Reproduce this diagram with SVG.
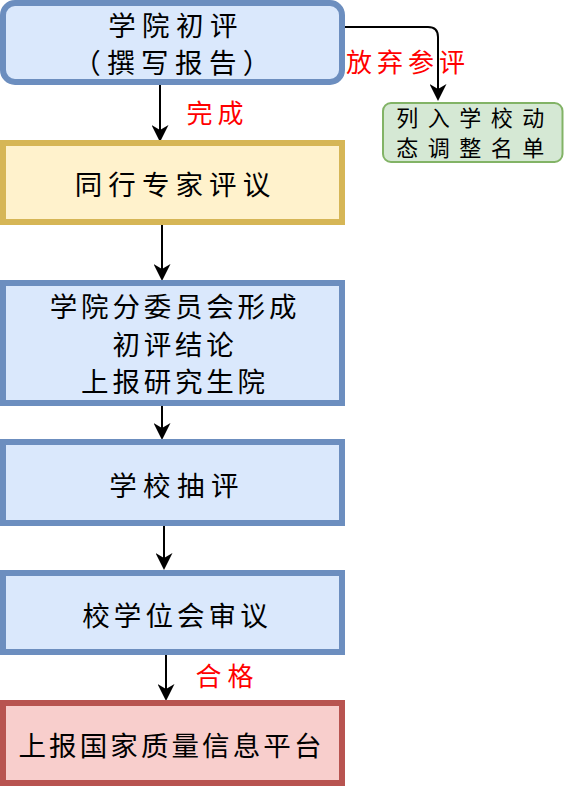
<svg xmlns="http://www.w3.org/2000/svg" width="564" height="786" viewBox="0 0 564 786">
<style>
.t{font-family:"Noto Sans CJK SC","Liberation Sans",sans-serif;font-size:27.5px;fill:#000;text-anchor:middle}
.g{font-size:22px}
.r{font-family:"Noto Sans CJK SC","Liberation Sans",sans-serif;font-size:26px;fill:#ff0000;text-anchor:middle}
.blue{fill:#dae8fc;stroke:#6c8ebf;stroke-width:6}
.yel{fill:#fff2cc;stroke:#d6b656;stroke-width:6}
.red{fill:#f8cecc;stroke:#b85450;stroke-width:6}
.grn{fill:#d5e8d4;stroke:#82b366;stroke-width:2}
.c{fill:none;stroke:#000;stroke-width:2;marker-end:url(#ah)}
</style>
<defs>
<marker id="ah" markerUnits="userSpaceOnUse" markerWidth="17" markerHeight="17" viewBox="0 0 17 17" refX="7" refY="8.5" orient="auto">
<path d="M0,0 L17,8.5 L0,17 L5,8.5 Z" fill="#000"/>
</marker>
</defs>
<rect width="564" height="786" fill="#fff"/>
<g id="connectors">
<path class="c" d="M160,85 V132"/>
<path class="c" d="M162,225 V271"/>
<path class="c" d="M162,406 V430"/>
<path class="c" d="M164,526 V560"/>
<path class="c" d="M166,655 V691"/>
<path class="c" d="M345,27 H428 Q438,27 438,37 V91"/>
<text class="r" x="408" y="72" letter-spacing="5">放弃参评</text>
<text class="r" x="217.5" y="123" letter-spacing="5">完成</text>
<text class="r" x="227.5" y="686" letter-spacing="6">合格</text>
</g>
<g id="n1">
<rect class="blue" x="3" y="3" width="339" height="79" rx="12"/>
<text class="t" x="176" y="35.5" letter-spacing="6.4">学院初评</text>
<text class="t" x="175" y="72.5" letter-spacing="6.4">（撰写报告）</text>
</g>
<g id="n2">
<rect class="yel" x="3" y="143" width="339" height="79"/>
<text class="t" x="175.5" y="194.5" letter-spacing="6.1">同行专家评议</text>
</g>
<g id="n3">
<rect class="blue" x="3" y="283" width="339" height="120"/>
<text class="t" x="175" y="317" letter-spacing="3.8">学院分委员会形成</text>
<text class="t" x="175" y="354.5" letter-spacing="3.8">初评结论</text>
<text class="t" x="175" y="392" letter-spacing="3.8">上报研究生院</text>
</g>
<g id="n4">
<rect class="blue" x="3" y="442" width="339" height="81"/>
<text class="t" x="177" y="495.5" letter-spacing="6.4">学校抽评</text>
</g>
<g id="n5">
<rect class="blue" x="3" y="573" width="339" height="79"/>
<text class="t" x="177" y="625.5" letter-spacing="4.1">校学位会审议</text>
</g>
<g id="n6">
<rect class="red" x="3" y="703" width="339" height="80"/>
<text class="t" x="171.5" y="755.5" letter-spacing="3.1">上报国家质量信息平台</text>
</g>
<g id="n7">
<rect class="grn" x="383" y="103" width="179.5" height="59" rx="8"/>
<text class="t g" x="475" y="125.5" letter-spacing="9.5">列入学校动</text>
<text class="t g" x="475" y="155.5" letter-spacing="9.5">态调整名单</text>
</g>
</svg>
